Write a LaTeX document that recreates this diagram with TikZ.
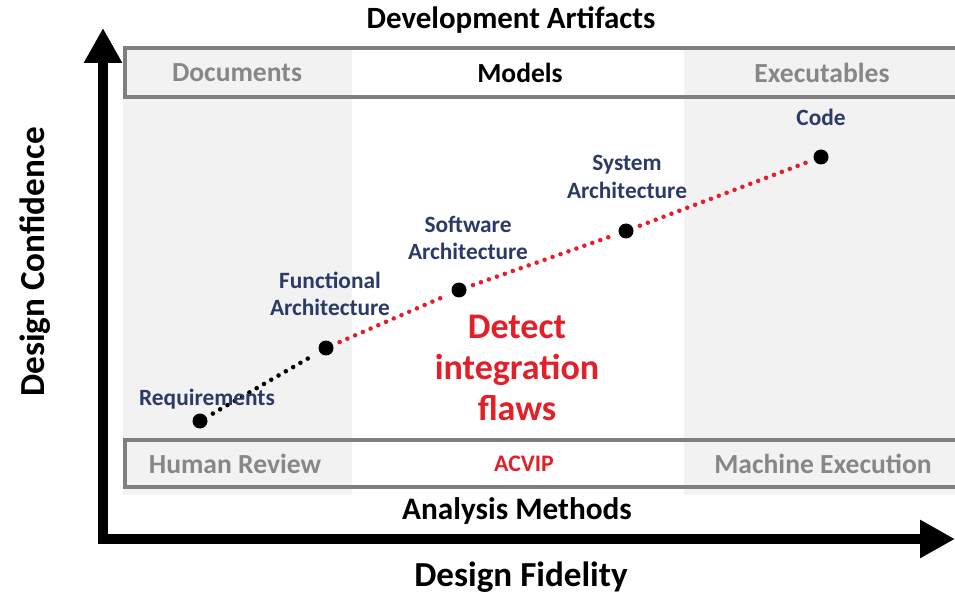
\documentclass[tikz,border=0pt]{standalone}
\usepackage{fontspec}
\setmainfont{Carlito}
\usetikzlibrary{arrows.meta,positioning}
\definecolor{lab}{HTML}{2B3A67}
\definecolor{hot}{HTML}{E3202A}
\definecolor{muted}{HTML}{878787}
\definecolor{col}{HTML}{F2F2F2}
\definecolor{rim}{HTML}{7F7F7F}
\tikzset{
  colfill/.style={fill=col,draw=none},
  rowbox/.style={draw=rim,line width=1.8pt},
  rowtxt/.style={font=\fontsize{15.7}{18}\selectfont\bfseries,text=muted},
  ptlab/.style={font=\fontsize{13.3}{15.5}\selectfont\bfseries,text=lab,align=center},
  pt/.style={circle,fill=black,inner sep=0pt,minimum size=0.3cm},
  dots/.style={line width=2.6pt,line cap=round,dash pattern=on 0pt off 4.8pt,shorten <=4pt,shorten >=4pt},
  axis/.style={line width=5.7pt,{Triangle[length=0.7cm,width=0.72cm]}-{Triangle[length=0.7cm,width=0.72cm]}},
}

\begin{document}
\begin{tikzpicture}[x=0.02cm,y=0.02cm]
\clip (0,0) rectangle (955,595);
% shaded columns
\fill[colfill] (123,100) rectangle (352,548);
\fill[colfill] (684,100) rectangle (960,548);
\draw[rowbox] (125,498) rectangle (962,547);
\draw[rowbox] (125,108) rectangle (962,155);
% axes
\coordinate (ytip) at (103,567);
\coordinate (xtip) at (955,56);
\draw[axis] (ytip) |- (xtip);
\node[font=\fontsize{17.6}{20}\selectfont\bfseries] (art) at (511,575) {Development Artifacts};
\node[rowtxt] (docs) at (237,522) {Documents};
\node[rowtxt,text=black] (mod) at (520,522) {Models};
\node[rowtxt] (exe) at (822,522) {Executables};
\node[rowtxt] (hum) at (235,131) {Human Review};
\node[rowtxt,text=hot,font=\fontsize{13.5}{16}\selectfont\bfseries] (acv) at (524,131) {ACVIP};
\node[rowtxt] (mach) at (823,131) {Machine Execution};
\node[font=\fontsize{17.8}{20}\selectfont\bfseries] (ana) at (517,84) {Analysis Methods};
\node[font=\fontsize{20}{23}\selectfont\bfseries] (fid) at (521,18) {Design Fidelity};
\node[font=\fontsize{20}{23}\selectfont\bfseries,rotate=90] (conf) at (35,333) {Design Confidence};
% design stages
\node[pt] (req) at (200,174) {};
\node[pt] (func) at (326,247) {};
\node[pt] (sw) at (459,305) {};
\node[pt] (sys) at (626,364) {};
\node[pt] (code) at (821,438) {};
\draw[dots] (req) -- (func);
\draw[dots,draw=hot] (func) -- (sw);
\draw[dots,draw=hot] (sw) -- (sys);
\draw[dots,draw=hot] (sys) -- (code);
\node[ptlab] (reql) at (207,196) {Requirements};
\node[ptlab] (funcl) at (330,301) {Functional\\Architecture};
\node[ptlab] (swl) at (468,357) {Software\\Architecture};
\node[ptlab] (sysl) at (627,418) {System\\Architecture};
\node[ptlab] (codel) at (821,478) {Code};
\node[font=\fontsize{20.5}{23.5}\selectfont\bfseries,text=hot,align=center] (flaw) at (517,227) {Detect\\integration\\flaws};
\end{tikzpicture}
\end{document}
